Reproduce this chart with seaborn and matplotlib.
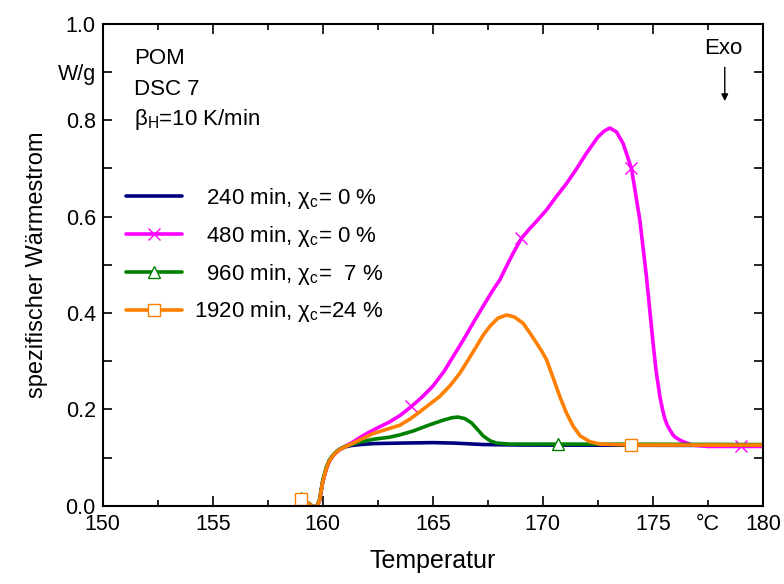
import matplotlib
matplotlib.use("Agg")
import matplotlib.pyplot as plt
import seaborn as sns

# DSC curves of POM
t_240 = [159.0, 159.3, 159.5, 159.7, 159.85, 160.0, 160.15, 160.3, 160.5, 160.75, 161.0,
         161.3, 161.7, 162.3, 163.5, 165.0, 166.0, 167.3, 169.0, 180.0]
w_240 = [0.012, 0.006, 0.0, -0.004, 0.01, 0.05, 0.075, 0.093, 0.106, 0.116, 0.122,
         0.125, 0.127, 0.129, 0.130, 0.131, 0.130, 0.127, 0.126, 0.125]

t_480 = [159.0, 159.3, 159.5, 159.7, 159.85, 160.0, 160.15, 160.3, 160.5, 160.75, 161.0,
         161.3, 161.6, 162.0, 162.5, 163.0, 163.5, 164.03, 164.5, 165.0, 165.5, 165.93,
         166.4, 166.83, 167.3, 167.74, 168.05, 168.35, 168.65, 169.03, 169.4, 169.71,
         170.17, 170.62, 171.08, 171.5, 171.99, 172.5, 172.8, 173.05, 173.35, 173.65,
         174.03, 174.41, 174.71, 175.01, 175.15, 175.32, 175.45, 175.55, 175.65, 175.77,
         175.9, 176.0, 176.2, 176.38, 176.8, 177.5, 179.0, 180.0]
w_480 = [0.012, 0.006, 0.0, -0.004, 0.01, 0.05, 0.075, 0.093, 0.106, 0.116, 0.123,
         0.130, 0.139, 0.150, 0.162, 0.173, 0.187, 0.206, 0.225, 0.248, 0.278, 0.310,
         0.345, 0.379, 0.415, 0.448, 0.469, 0.497, 0.524, 0.555, 0.575, 0.590,
         0.614, 0.642, 0.669, 0.697, 0.732, 0.765, 0.778, 0.784, 0.776, 0.752,
         0.700, 0.593, 0.476, 0.338, 0.280, 0.227, 0.198, 0.180, 0.168, 0.158,
         0.148, 0.143, 0.137, 0.133, 0.126, 0.123, 0.123, 0.123]
marks_480 = [0, 17, 29, 42, 58]

t_960 = [159.0, 159.3, 159.5, 159.7, 159.85, 160.0, 160.15, 160.3, 160.5, 160.75, 161.0,
         161.3, 161.7, 162.3, 163.0, 163.5, 164.1, 164.86, 165.5, 165.9, 166.15, 166.45,
         166.76, 167.0, 167.29, 167.6, 167.9, 168.5, 170.7, 180.0]
w_960 = [0.016, 0.007, 0.0, -0.004, 0.012, 0.053, 0.078, 0.095, 0.107, 0.117, 0.123,
         0.127, 0.132, 0.138, 0.142, 0.147, 0.155, 0.168, 0.178, 0.183, 0.184, 0.181,
         0.172, 0.160, 0.145, 0.135, 0.130, 0.128, 0.128, 0.127]
marks_960 = [0, 28]

t_1920 = [159.0, 159.3, 159.5, 159.7, 159.85, 160.0, 160.15, 160.3, 160.5, 160.75, 161.0,
          161.3, 161.7, 162.3, 163.0, 163.5, 164.0, 164.41, 165.32, 165.8, 166.23, 166.6,
          166.99, 167.3, 167.59, 167.95, 168.35, 168.7, 169.1, 169.41, 169.71, 169.95,
          170.17, 170.45, 170.77, 171.08, 171.38, 171.7, 172.14, 172.6, 174.0, 180.0]
w_1920 = [0.013, 0.006, 0.0, -0.004, 0.01, 0.05, 0.075, 0.093, 0.106, 0.116, 0.122,
          0.128, 0.137, 0.150, 0.160, 0.167, 0.181, 0.195, 0.227, 0.250, 0.275, 0.302,
          0.331, 0.355, 0.372, 0.389, 0.396, 0.392, 0.379, 0.359, 0.338, 0.321,
          0.303, 0.268, 0.227, 0.192, 0.165, 0.145, 0.133, 0.128, 0.126, 0.126]
marks_1920 = [0, 40]

labels = ["  240 min, $\\mathregular{\\chi_c}$= 0 %",
          "  480 min, $\\mathregular{\\chi_c}$= 0 %",
          "  960 min, $\\mathregular{\\chi_c}$=  7 %",
          "1920 min, $\\mathregular{\\chi_c}$=24 %"]

sns.set_style("ticks")
plt.rcParams["font.family"] = ["Liberation Sans", "DejaVu Sans"]
plt.rcParams["mathtext.fontset"] = "custom"
plt.rcParams["mathtext.rm"] = "Liberation Sans"
plt.rcParams["mathtext.it"] = "Liberation Sans"
plt.rcParams["text.color"] = "black"
plt.rcParams["axes.labelcolor"] = "black"

fig, ax = plt.subplots(figsize=(7.84, 5.84), dpi=100)
fig.subplots_adjust(left=0.131, right=0.973, top=0.959, bottom=0.134)

lw = 2.6
sns.lineplot(x=t_240, y=w_240, color="#000080", lw=lw, label=labels[0], ax=ax)
sns.lineplot(x=t_480, y=w_480, color="#FF00FF", lw=lw, label=labels[1], ax=ax,
             marker="x", markersize=9, mew=1.0, mec="#FF00FF", markevery=marks_480)
sns.lineplot(x=t_960, y=w_960, color="#008000", lw=lw, label=labels[2], ax=ax,
             marker="^", markersize=8, mew=1.0, mec="#008000", mfc="white",
             markevery=marks_960)
sns.lineplot(x=t_1920, y=w_1920, color="#FF8000", lw=lw, label=labels[3], ax=ax,
             marker="s", markersize=8, mew=1.0, mec="#FF8000", mfc="white",
             markevery=marks_1920)

ax.set_xlim(150, 180)
ax.set_ylim(0, 1.0)
ax.set_xticks([150, 155, 160, 165, 170, 175, 180])
ax.set_xticks([152.5, 157.5, 162.5, 167.5, 172.5, 177.5], minor=True)
ax.set_xticklabels(["", "", "", "", "", "\u00b0C"], minor=True)
ax.set_yticks([0.0, 0.2, 0.4, 0.6, 0.8, 1.0])
ax.set_yticklabels(["0.0", "0.2", "0.4", "0.6", "0.8", "1.0"])
ax.set_yticks([0.1, 0.3, 0.5, 0.7, 0.9], minor=True)
ax.set_yticklabels(["", "", "", "", "W/g"], minor=True)

ax.tick_params(axis="both", which="both", direction="in", top=True, right=True,
               labelsize=15.5, width=1.2, color="black", labelcolor="black")
ax.tick_params(axis="x", which="major", length=7.5, pad=6)
ax.tick_params(axis="x", which="minor", length=4.5, pad=6)
ax.tick_params(axis="y", which="both", length=6.5, pad=5)
for sp in ax.spines.values():
    sp.set_linewidth(1.5)
    sp.set_color("black")

ax.set_xlabel("Temperatur", fontsize=18, labelpad=10)
ax.set_ylabel("spezifischer W\u00e4rmestrom", fontsize=17, labelpad=7)

ax.text(0.047, 0.928, "POM", transform=ax.transAxes, fontsize=16, va="center")
ax.text(0.047, 0.863, "DSC 7", transform=ax.transAxes, fontsize=16, va="center")
ax.text(0.047, 0.801, "$\\mathregular{\\beta_H}$=10 K/min", transform=ax.transAxes,
        fontsize=16, va="center")
ax.text(178.2, 0.95, "Exo", fontsize=16, ha="center", va="center")
ax.annotate("", xy=(178.27, 0.84), xytext=(178.27, 0.91),
            arrowprops=dict(arrowstyle="-|>", color="black", lw=1.0,
                            mutation_scale=10, shrinkA=0, shrinkB=0))

ax.legend(loc="upper left", bbox_to_anchor=(0.036, 0.664), frameon=False,
          fontsize=16, handlelength=2.5, handletextpad=0.55, labelspacing=0.58,
          borderpad=0, borderaxespad=0)

fig.savefig("out.png", dpi=100)
